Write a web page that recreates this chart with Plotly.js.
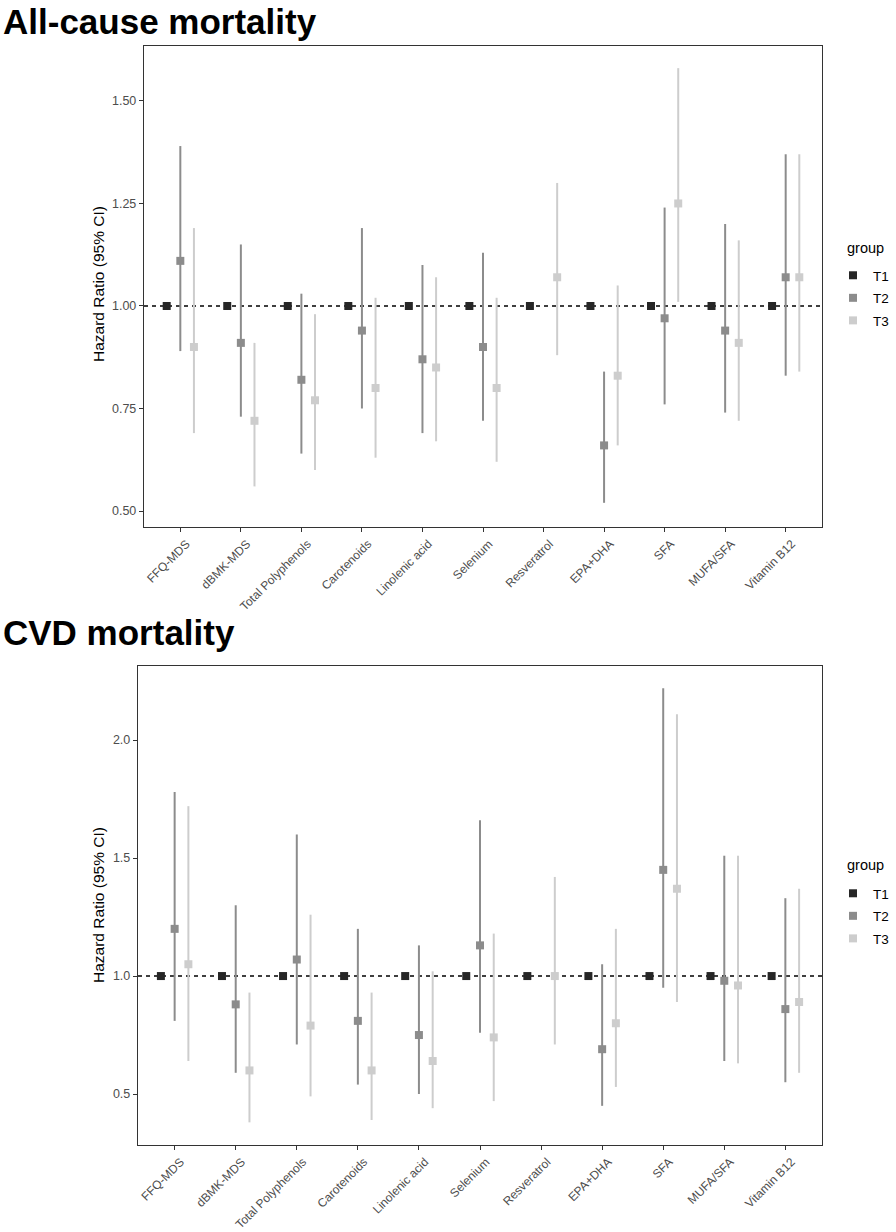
<!DOCTYPE html>
<html>
<head>
<meta charset="utf-8">
<script src="https://cdn.plot.ly/plotly-3.0.1.min.js"></script>
<style>
  html, body { margin: 0; padding: 0; background: #ffffff; }
  #chart { width: 896px; height: 1232px; }
</style>
</head>
<body>
<div id="chart"></div>
<script>
// ---------------- DATA ----------------
const categories = ["FFQ-MDS", "dBMK-MDS", "Total Polyphenols", "Carotenoids", "Linolenic acid",
                    "Selenium", "Resveratrol", "EPA+DHA", "SFA", "MUFA/SFA", "Vitamin B12"];
const groups = ["T1", "T2", "T3"];

// All-cause mortality
const allT1   = [1.00, 1.00, 1.00, 1.00, 1.00, 1.00, 1.00, 1.00, 1.00, 1.00, 1.00];
const allT2   = [1.11, 0.91, 0.82, 0.94, 0.87, 0.90, null, 0.66, 0.97, 0.94, 1.07];
const allT2Lo = [0.89, 0.73, 0.64, 0.75, 0.69, 0.72, null, 0.52, 0.76, 0.74, 0.83];
const allT2Hi = [1.39, 1.15, 1.03, 1.19, 1.10, 1.13, null, 0.84, 1.24, 1.20, 1.37];
const allT3   = [0.90, 0.72, 0.77, 0.80, 0.85, 0.80, 1.07, 0.83, 1.25, 0.91, 1.07];
const allT3Lo = [0.69, 0.56, 0.60, 0.63, 0.67, 0.62, 0.88, 0.66, 1.01, 0.72, 0.84];
const allT3Hi = [1.19, 0.91, 0.98, 1.02, 1.07, 1.02, 1.30, 1.05, 1.58, 1.16, 1.37];

// CVD mortality
const cvdT1   = [1.00, 1.00, 1.00, 1.00, 1.00, 1.00, 1.00, 1.00, 1.00, 1.00, 1.00];
const cvdT2   = [1.20, 0.88, 1.07, 0.81, 0.75, 1.13, null, 0.69, 1.45, 0.98, 0.86];
const cvdT2Lo = [0.81, 0.59, 0.71, 0.54, 0.50, 0.76, null, 0.45, 0.95, 0.64, 0.55];
const cvdT2Hi = [1.78, 1.30, 1.60, 1.20, 1.13, 1.66, null, 1.05, 2.22, 1.51, 1.33];
const cvdT3   = [1.05, 0.60, 0.79, 0.60, 0.64, 0.74, 1.00, 0.80, 1.37, 0.96, 0.89];
const cvdT3Lo = [0.64, 0.38, 0.49, 0.39, 0.44, 0.47, 0.71, 0.53, 0.89, 0.63, 0.59];
const cvdT3Hi = [1.72, 0.93, 1.26, 0.93, 1.02, 1.18, 1.42, 1.20, 2.11, 1.51, 1.37];

// ---------------- STYLE ----------------
const colors = { T1: "#262626", T2: "#8c8c8c", T3: "#cdcdcd" };
const dodge = { T1: -0.225, T2: 0, T3: 0.225 };
const FONT = "Liberation Sans, Arial, Helvetica, sans-serif";
const W = 896, H = 1232;

const idx = categories.map((_, i) => i);

function mkTrace(name, hr, lo, hi, xa, ya, legend) {
  const t = {
    type: "scatter",
    mode: "markers",
    name: name,
    x: idx.map(i => i + dodge[name]),
    y: hr,
    xaxis: xa, yaxis: ya,
    legend: legend,
    legendgroup: legend + name,
    marker: { symbol: "square", size: 8, color: colors[name] },
    hoverinfo: "skip"
  };
  if (lo && hi) {
    t.error_y = {
      type: "data", symmetric: false,
      array: hr.map((v, i) => v == null ? null : hi[i] - v),
      arrayminus: hr.map((v, i) => v == null ? null : v - lo[i]),
      width: 0, thickness: 2, color: colors[name]
    };
  }
  return t;
}

const data = [
  mkTrace("T1", allT1, null, null, "x", "y", "legend"),
  mkTrace("T2", allT2, allT2Lo, allT2Hi, "x", "y", "legend"),
  mkTrace("T3", allT3, allT3Lo, allT3Hi, "x", "y", "legend"),
  mkTrace("T1", cvdT1, null, null, "x2", "y2", "legend2"),
  mkTrace("T2", cvdT2, cvdT2Lo, cvdT2Hi, "x2", "y2", "legend2"),
  mkTrace("T3", cvdT3, cvdT3Lo, cvdT3Hi, "x2", "y2", "legend2")
];

const px = v => v / W;
const py = v => 1 - v / H;

const xBase = {
  range: [-0.6, 10.6],
  tickmode: "array", tickvals: idx, ticktext: categories,
  tickangle: -45,
  ticklabelshift: 6,
  tickfont: { family: FONT, size: 12, color: "#4d4d4d" },
  ticks: "outside", ticklen: 4, tickcolor: "#333333", tickwidth: 1,
  showline: true, mirror: true, linecolor: "#333333", linewidth: 1.2,
  showgrid: false, zeroline: false, fixedrange: true, automargin: false
};
const yBase = {
  tickfont: { family: FONT, size: 12.5, color: "#4d4d4d" },
  ticks: "outside", ticklen: 4, tickcolor: "#333333", tickwidth: 1,
  showline: true, mirror: true, linecolor: "#333333", linewidth: 1.2,
  showgrid: false, zeroline: false, fixedrange: true, automargin: false
};

const legendBase = {
  font: { family: FONT, size: 13.5, color: "#000" },
  xanchor: "left", yanchor: "top",
  bgcolor: "rgba(0,0,0,0)", borderwidth: 0,
  tracegroupgap: 2, itemwidth: 30
};

const layout = {
  width: W, height: H,
  margin: { l: 0, r: 0, t: 0, b: 0, autoexpand: false },
  paper_bgcolor: "#ffffff", plot_bgcolor: "#ffffff",
  font: { family: FONT },
  showlegend: true,
  xaxis: Object.assign({}, xBase, { domain: [px(144), px(822)], anchor: "y" }),
  yaxis: Object.assign({}, yBase, { domain: [py(527), py(46)], anchor: "x",
           range: [0.461, 1.634], tickmode: "array",
           tickvals: [0.5, 0.75, 1.0, 1.25, 1.5], tickformat: ".2f" }),
  xaxis2: Object.assign({}, xBase, { domain: [px(138), px(822)], anchor: "y2" }),
  yaxis2: Object.assign({}, yBase, { domain: [py(1145), py(666)], anchor: "x2",
           range: [0.284, 2.314], tickmode: "array",
           tickvals: [0.5, 1.0, 1.5, 2.0], tickformat: ".1f" }),
  legend: Object.assign({}, legendBase, { x: px(833), y: py(260) }),
  legend2: Object.assign({}, legendBase, { x: px(833), y: py(878) }),
  shapes: [
    { type: "line", xref: "x domain", yref: "y", x0: 0, x1: 1, y0: 1, y1: 1,
      line: { color: "#000", width: 1.5, dash: "4px,4px" }, layer: "below" },
    { type: "line", xref: "x2 domain", yref: "y2", x0: 0, x1: 1, y0: 1, y1: 1,
      line: { color: "#000", width: 1.5, dash: "4px,4px" }, layer: "below" }
  ],
  annotations: [
    { text: "<b>All-cause mortality</b>", xref: "paper", yref: "paper",
      x: px(1), y: 1, xanchor: "left", yanchor: "top", showarrow: false,
      font: { family: FONT, size: 35, color: "#000" } },
    { text: "<b>CVD mortality</b>", xref: "paper", yref: "paper",
      x: px(1), y: py(632), xanchor: "left", yanchor: "middle", showarrow: false,
      font: { family: FONT, size: 35, color: "#000" } },
    { text: "Hazard Ratio (95% CI)", xref: "paper", yref: "paper",
      x: px(98), y: py(284), xanchor: "center", yanchor: "middle", textangle: -90,
      showarrow: false, font: { family: FONT, size: 15.5, color: "#000" } },
    { text: "Hazard Ratio (95% CI)", xref: "paper", yref: "paper",
      x: px(98), y: py(905), xanchor: "center", yanchor: "middle", textangle: -90,
      showarrow: false, font: { family: FONT, size: 15.5, color: "#000" } },
    { text: "group", xref: "paper", yref: "paper",
      x: px(845), y: py(248), xanchor: "left", yanchor: "middle",
      showarrow: false, font: { family: FONT, size: 14.5, color: "#000" } },
    { text: "group", xref: "paper", yref: "paper",
      x: px(845), y: py(865), xanchor: "left", yanchor: "middle",
      showarrow: false, font: { family: FONT, size: 14.5, color: "#000" } }
  ]
};

Plotly.newPlot("chart", data, layout, { displayModeBar: false, staticPlot: true });
</script>
</body>
</html>
